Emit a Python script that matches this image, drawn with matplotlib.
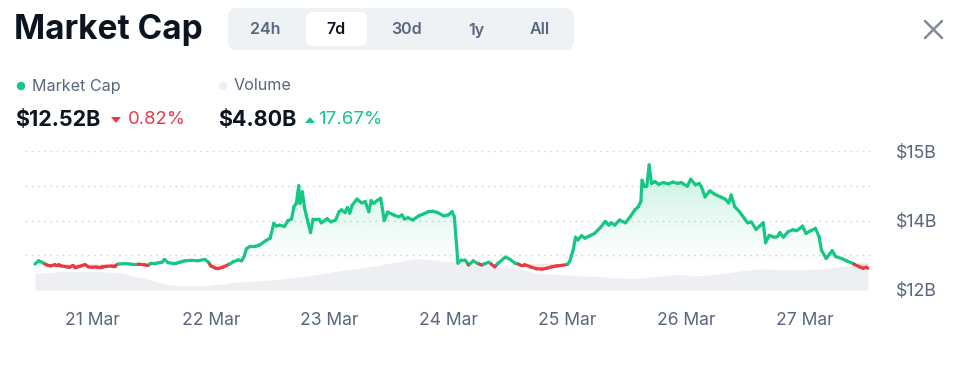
import numpy as np
import matplotlib.pyplot as plt
from matplotlib.collections import LineCollection
from matplotlib.patches import FancyBboxPatch, Circle, Polygon
from matplotlib.path import Path

plt.rcParams['font.family'] = ['Inter', 'DejaVu Sans']

# ----- data -----
# market cap trace: day of March (fractional), value in $B
day = [20.52, 20.55, 20.57, 20.59, 20.62, 20.65, 20.69, 20.72, 20.74, 20.79,
       20.81, 20.84, 20.86, 20.88, 20.91, 20.94, 20.97, 21.00, 21.04, 21.08,
       21.12, 21.17, 21.19, 21.22, 21.28, 21.33, 21.39, 21.45, 21.47, 21.50,
       21.54, 21.59, 21.61, 21.64, 21.67, 21.71, 21.74, 21.78, 21.84, 21.89,
       21.95, 21.98, 22.00, 22.04, 22.06, 22.11, 22.15, 22.19, 22.23, 22.26,
       22.28, 22.30, 22.33, 22.37, 22.41, 22.46, 22.50, 22.53, 22.55, 22.58,
       22.62, 22.65, 22.68, 22.70, 22.72, 22.74, 22.75, 22.77, 22.79, 22.82,
       22.84, 22.86, 22.91, 22.93, 22.98, 23.01, 23.05, 23.08, 23.10, 23.13,
       23.15, 23.17, 23.19, 23.23, 23.27, 23.30, 23.33, 23.35, 23.37, 23.40,
       23.43, 23.46, 23.49, 23.54, 23.58, 23.61, 23.63, 23.66, 23.70, 23.75,
       23.79, 23.83, 23.87, 23.91, 23.96, 24.00, 24.03, 24.05, 24.07, 24.08,
       24.11, 24.14, 24.17, 24.21, 24.24, 24.28, 24.34, 24.36, 24.39, 24.42,
       24.48, 24.52, 24.56, 24.60, 24.64, 24.69, 24.74, 24.79, 24.83, 24.87,
       24.91, 24.95, 25.00, 25.02, 25.05, 25.07, 25.09, 25.12, 25.15, 25.19,
       25.23, 25.28, 25.32, 25.35, 25.37, 25.40, 25.44, 25.49, 25.53, 25.57,
       25.60, 25.62, 25.63, 25.65, 25.67, 25.69, 25.71, 25.74, 25.77, 25.81,
       25.85, 25.89, 25.93, 25.96, 26.01, 26.04, 26.08, 26.11, 26.13, 26.16,
       26.20, 26.24, 26.29, 26.33, 26.36, 26.38, 26.41, 26.45, 26.49, 26.52,
       26.55, 26.59, 26.62, 26.65, 26.67, 26.70, 26.74, 26.77, 26.79, 26.82,
       26.86, 26.90, 26.93, 26.96, 26.98, 27.01, 27.05, 27.09, 27.12, 27.14,
       27.18, 27.21, 27.23, 27.26, 27.31, 27.35, 27.39, 27.42, 27.46, 27.49,
       27.52, 27.53]
mcap = [12.56, 12.63, 12.61, 12.58, 12.54, 12.52, 12.55, 12.55, 12.52, 12.50,
        12.49, 12.53, 12.48, 12.50, 12.52, 12.55, 12.50, 12.49, 12.50, 12.50,
        12.51, 12.52, 12.52, 12.56, 12.57, 12.56, 12.56, 12.54, 12.53, 12.58,
        12.58, 12.60, 12.66, 12.59, 12.58, 12.58, 12.60, 12.63, 12.64, 12.63,
        12.66, 12.60, 12.52, 12.47, 12.46, 12.50, 12.55, 12.61, 12.65, 12.63,
        12.72, 12.89, 12.94, 12.94, 12.97, 13.06, 13.12, 13.44, 13.38, 13.40,
        13.37, 13.50, 13.53, 13.80, 13.87, 14.25, 13.87, 14.12, 13.76, 13.44,
        13.24, 13.53, 13.53, 13.45, 13.54, 13.47, 13.51, 13.69, 13.73, 13.67,
        13.78, 13.66, 13.83, 13.96, 13.88, 13.91, 13.69, 13.93, 13.87, 13.93,
        13.98, 13.50, 13.68, 13.62, 13.58, 13.62, 13.53, 13.56, 13.51, 13.60,
        13.64, 13.69, 13.70, 13.67, 13.60, 13.62, 13.69, 13.58, 12.93, 12.58,
        12.65, 12.65, 12.54, 12.63, 12.58, 12.54, 12.60, 12.56, 12.50, 12.58,
        12.71, 12.66, 12.58, 12.55, 12.55, 12.50, 12.46, 12.45, 12.47, 12.50,
        12.52, 12.53, 12.55, 12.61, 12.86, 13.14, 13.08, 13.17, 13.12, 13.17,
        13.22, 13.35, 13.48, 13.40, 13.45, 13.40, 13.51, 13.45, 13.58, 13.73,
        13.80, 13.91, 14.37, 14.23, 14.24, 14.70, 14.30, 14.34, 14.28, 14.32,
        14.29, 14.33, 14.30, 14.32, 14.24, 14.39, 14.27, 14.30, 14.23, 14.01,
        14.14, 14.07, 14.01, 13.96, 13.88, 14.05, 13.80, 13.69, 13.55, 13.45,
        13.47, 13.31, 13.38, 13.45, 13.02, 13.18, 13.14, 13.15, 13.24, 13.14,
        13.26, 13.30, 13.28, 13.33, 13.38, 13.22, 13.28, 13.33, 13.15, 12.86,
        12.68, 12.78, 12.85, 12.72, 12.68, 12.63, 12.59, 12.55, 12.50, 12.47,
        12.49, 12.47]

# volume trace ($B)
vol_day = [20.52, 20.65, 20.73, 20.94, 21.07, 21.22, 21.28, 21.36, 21.45, 21.53,
           21.59, 21.67, 21.76, 21.84, 21.95, 22.02, 22.12, 22.18, 22.29, 22.37,
           22.52, 22.81, 23.09, 23.31, 23.42, 23.59, 23.70, 23.82, 23.93, 24.04,
           24.18, 24.29, 24.58, 24.75, 25.00, 25.28, 25.47, 25.59, 25.70, 25.95,
           26.06, 26.20, 26.48, 26.62, 26.90, 27.07, 27.19, 27.36, 27.46, 27.53]
volume = [2.83, 2.97, 3.11, 3.11, 3.11, 2.97, 2.72, 2.26, 1.99, 1.41,
          1.14, 0.85, 0.73, 0.73, 0.68, 0.97, 1.02, 1.24, 1.41, 1.53,
          1.70, 2.38, 3.28, 3.86, 4.25, 4.81, 5.27, 5.22, 4.93, 4.81,
          4.25, 4.25, 3.69, 2.84, 2.55, 2.26, 1.99, 1.99, 2.26, 2.67,
          2.38, 2.55, 3.28, 3.57, 3.40, 3.52, 3.74, 4.08, 4.76, 4.80]

x_ticks = [21, 22, 23, 24, 25, 26, 27]
x_labels = ["21 Mar", "22 Mar", "23 Mar", "24 Mar", "25 Mar", "26 Mar", "27 Mar"]
y_grid = [12, 12.75, 13.5, 14.25, 15]
y_labels = ["$12B", "", "$14B", "", "$15B"]
tabs = ["24h", "7d", "30d", "1y", "All"]
active_tab = "7d"

GREEN = "#16c784"
RED = "#ea3943"
GREY_TXT = "#58667e"
DARK = "#0d1421"

W, H = 975, 368
fig = plt.figure(figsize=(W / 100, H / 100), dpi=100)

# ----- header, drawn in pixel coords -----
hdr = fig.add_axes([0, 0, 1, 1], zorder=0)
hdr.set_xlim(0, W)
hdr.set_ylim(H, 0)
hdr.axis("off")

hdr.text(14, 30, "Market Cap", fontsize=24, fontweight="bold", color=DARK, va="center")

hdr.add_patch(FancyBboxPatch((228, 8), 346, 42, boxstyle="round,pad=0,rounding_size=9",
                             fc="#eff2f5", ec="none"))
hdr.add_patch(FancyBboxPatch((306, 12), 61, 34, boxstyle="round,pad=0,rounding_size=7",
                             fc="white", ec="none"))
for label, cx in zip(tabs, [265, 336, 406, 476, 540]):
    hdr.text(cx, 30, label, fontsize=11.5, fontweight="semibold", ha="center", va="center",
             color=DARK if label == active_tab else GREY_TXT)

hdr.plot([925, 942], [21, 38], color="#808a9d", lw=1.8, solid_capstyle="round")
hdr.plot([925, 942], [38, 21], color="#808a9d", lw=1.8, solid_capstyle="round")

hdr.add_patch(Circle((21, 86), 4.2, fc=GREEN, ec="none"))
hdr.text(32, 86, "Market Cap", fontsize=11.6, color=GREY_TXT, va="center")
hdr.add_patch(Circle((223, 86), 4.2, fc="#eceef2", ec="none"))
hdr.text(234, 86, "Volume", fontsize=11.6, color=GREY_TXT, va="center")

hdr.text(15, 120, "$12.52B", fontsize=15.5, fontweight="bold", color=DARK, va="center")
hdr.add_patch(Polygon([(111, 117), (121, 117), (116, 123)], closed=True, fc=RED, ec="none"))
hdr.text(128, 120, "0.82%", fontsize=13.3, color=RED, va="center")
hdr.text(218, 120, "$4.80B", fontsize=15.5, fontweight="bold", color=DARK, va="center")
hdr.add_patch(Polygon([(305, 123), (315, 123), (310, 117)], closed=True, fc=GREEN, ec="none"))
hdr.text(318, 120, "17.67%", fontsize=13.5, color=GREEN, va="center")

# ----- chart -----
rect = [25 / W, 1 - 290 / H, 850 / W, 139 / H]
xlim = (20.436, 27.591)

ax_vol = fig.add_axes(rect, zorder=1)
ax_vol.fill_between(vol_day, volume, 0, color="#edeff3", lw=0)
ax_vol.set_xlim(*xlim)
ax_vol.set_ylim(0, 23.6)
ax_vol.axis("off")

ax = fig.add_axes(rect, zorder=2)
ax.patch.set_visible(False)

t = np.array(day)
v = np.array(mcap)
base = v[0]

# split segments where the line crosses the opening value
xs, ys = [t[0]], [v[0]]
for i in range(1, len(t)):
    a, b = v[i - 1] - base, v[i] - base
    if a * b < 0:
        f = a / (a - b)
        xs.append(t[i - 1] + f * (t[i] - t[i - 1]))
        ys.append(base)
    xs.append(t[i])
    ys.append(v[i])
xs, ys = np.array(xs), np.array(ys)

pts = np.column_stack([xs, ys]).reshape(-1, 1, 2)
segs = np.concatenate([pts[:-1], pts[1:]], axis=1)
mid = (ys[:-1] + ys[1:]) / 2
colors = [GREEN if m >= base else RED for m in mid]
ax.add_collection(LineCollection(segs, colors=colors, linewidths=2.3, capstyle="round",
                                 joinstyle="round", zorder=4))

# green gradient fill above the opening value
up = ax.fill_between(xs, ys, base, where=ys >= base, interpolate=True, color="none", lw=0)
clip = Path.make_compound_path(*up.get_paths())
grad = np.zeros((256, 1, 4))
grad[:, 0, :3] = [22 / 255, 199 / 255, 132 / 255]
grad[:, 0, 3] = np.linspace(0.0, 0.32, 256) ** 1.2
img = ax.imshow(grad, extent=[xlim[0], xlim[1], base, v.max()], origin="lower",
                aspect="auto", zorder=2, interpolation="bilinear")
img.set_clip_path(clip, ax.transData)

# red fill below
ax.fill_between(xs, ys, base, where=ys <= base, interpolate=True, color=RED, alpha=0.14,
                lw=0, zorder=2)

ax.set_xlim(*xlim)
ax.set_ylim(12, 15)
ax.set_yticks(y_grid)
ax.set_yticklabels(y_labels)
ax.yaxis.tick_right()
ax.set_xticks(x_ticks)
ax.set_xticklabels(x_labels)
ax.yaxis.grid(True, linestyle=(0, (1, 3.5)), color="#c9d0dc", lw=1.0)
ax.set_axisbelow(True)
ax.tick_params(axis="y", length=0, pad=15, labelsize=12.8, labelcolor=GREY_TXT)
ax.tick_params(axis="x", length=0, pad=16, labelsize=12.6, labelcolor=GREY_TXT)
for s in ax.spines.values():
    s.set_visible(False)

fig.savefig("out.png", dpi=100)
